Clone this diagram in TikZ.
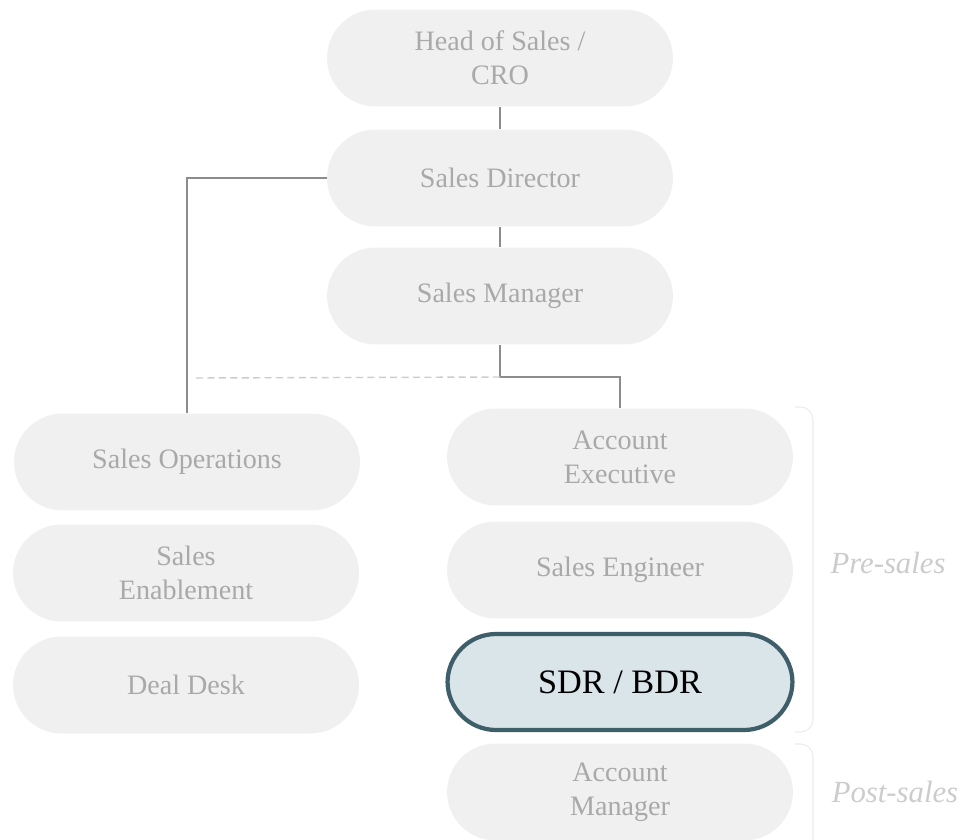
\documentclass[tikz,border=0pt]{standalone}
\usepackage{fontspec}
\setmainfont{Liberation Serif}
\usepackage{tikz}
\usetikzlibrary{positioning, calc, shapes, arrows.meta}
\definecolor{boxfill}{HTML}{F0F0F0}
\definecolor{boxtext}{HTML}{A9A9A9}
\definecolor{linkgray}{HTML}{8C8C8C}
\definecolor{dashgray}{HTML}{CCCCCC}
\definecolor{bracegray}{HTML}{EBEBEB}
\definecolor{focusfill}{HTML}{DAE5E9}
\definecolor{focusline}{HTML}{3E5E69}
\tikzstyle{Link} = [
%plain org chart connector:
draw=linkgray, line width=0.85pt
]
\begin{document}
\begin{tikzpicture}[
				x=0.02cm, y=-0.02cm,
				role/.style = {rectangle, rounded corners=0.97cm, fill=boxfill, text=boxtext, align=center, minimum width=6.92cm, minimum height=1.94cm, inner sep=0pt, font=\fontsize{16}{19.5}\selectfont},
				focus/.style = {role, fill=focusfill, draw=focusline, line width=2.4pt, text=black, minimum width=6.9cm, minimum height=1.92cm, font=\fontsize{19.5}{22}\selectfont},
				phase/.style = {text=dashgray, font=\fontsize{17.5}{20}\selectfont\itshape},
				brace/.style = {draw=bracegray, line width=0.6pt, rounded corners=0.25cm},
			]
			\useasboundingbox (0,0) rectangle (964,839);

			\node[role](head) at (500,58){Head of Sales /\\CRO};
			\node[role](director) at (500,178){Sales Director};
			\node[role](manager) at (500,296){Sales Manager};
			\node[role](ops) at (187,462){Sales Operations};
			\node[role](enable) at (186,573){Sales\\Enablement};
			\node[role](desk) at (186,685){Deal Desk};
			\node[role](ae) at (620,457){Account\\Executive};
			\node[role](se) at (620,570){Sales Engineer};
			\node[focus](sdr) at (620,682){SDR / BDR};
			\node[role](am) at (620,792){Account\\Manager};

			\coordinate(split) at (500,377);
			\coordinate(dotend) at (192,378);

			\draw[Link](head)--(director);
			\draw[Link](director)--(manager);
			\draw[Link](director.west)-|(ops.north);
			\draw[Link](manager.south)--(split)-|(ae.north);
			\draw[draw=dashgray, line width=0.8pt, dash pattern=on 4pt off 2.5pt](split)--(dotend);

			\draw[brace](795,407)-|(813,732)--(795,732);
			\draw[brace](795,744)-|(813,845);
			\node[phase](pre) at (888,563){Pre-sales};
			\node[phase](post) at (895,792){Post-sales};

		\end{tikzpicture}
\end{document}
